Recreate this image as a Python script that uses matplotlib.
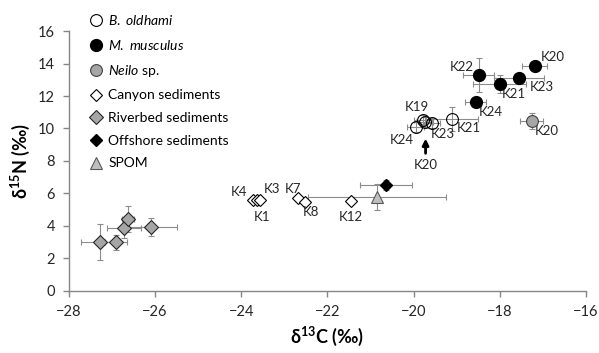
import matplotlib
matplotlib.use("Agg")
import matplotlib.pyplot as plt
from matplotlib.lines import Line2D

plt.rcParams['font.family'] = ['Lato', 'DejaVu Sans']
plt.rcParams['mathtext.fontset'] = 'custom'
plt.rcParams['mathtext.rm'] = 'Lato'
plt.rcParams['mathtext.it'] = 'Lato:italic'
plt.rcParams['mathtext.bf'] = 'Lato:bold'

# B. oldhami
old_lab = ['K19', 'K20', 'K23', 'K24', 'K21']
old_x = [-19.79, -19.74, -19.58, -19.95, -19.11]
old_y = [10.55, 10.4, 10.34, 10.09, 10.6]
old_xe = [0.2, 0.2, 0.2, 0.2, 0.6]
old_ye = [0.3, 0.3, 0.3, 0.3, 0.75]
old_off = [(-4, 9), None, (8, -8), (-10, -9), (12, -6.5)]

# M. musculus
mus_lab = ['K20', 'K22', 'K23', 'K21', 'K24']
mus_x = [-17.19, -18.49, -17.56, -18.0, -18.56]
mus_y = [13.85, 13.3, 13.1, 12.74, 11.63]
mus_xe = [0.3, 0.35, 0.58, 0.62, 0.25]
mus_ye = [0.2, 1.05, 0.3, 0.55, 0.2]
mus_off = [(13, 6.5), (-12, 6), (17, -6.5), (10, -7), (11, -7)]

# Neilo sp.
nei_lab = ['K20']
nei_x = [-17.26]
nei_y = [10.46]
nei_xe = [0.27]
nei_ye = [0.5]
nei_off = [(11, -7)]

# canyon sediments
can_lab = ['K4', 'K1', 'K3', 'K7', 'K8', 'K12']
can_x = [-23.73, -23.64, -23.57, -22.69, -22.52, -21.46]
can_y = [5.57, 5.6, 5.6, 5.72, 5.48, 5.54]
can_off = [(-10, 6), (3.5, -12), (9, 8), (-3.5, 6.5), (4.5, -7), (0.5, -11.5)]

# riverbed sediments
riv_x = [-27.28, -26.91, -26.72, -26.63, -26.1]
riv_y = [3.0, 3.0, 3.88, 4.43, 3.94]
riv_xe = [0.45, 0.25, 0.4, 0.14, 0.6]
riv_ye = [1.1, 0.46, 0.6, 0.8, 0.55]

# offshore sediments
off_x = [-20.64]
off_y = [6.52]
off_xe = [0.6]
off_ye = [0.3]

# SPOM
spom_x = [-20.85]
spom_y = [5.8]
spom_xe = [1.6]
spom_ye = [0.8]

fig = plt.figure(figsize=(5.99, 3.53), dpi=100)
ax = fig.add_axes([0.115, 0.176, 0.863, 0.736])

ekw = dict(fmt='none', ecolor='#8c8c8c', elinewidth=0.8, capsize=2, capthick=0.8, zorder=1)
ax.errorbar(old_x, old_y, xerr=old_xe, yerr=old_ye, **ekw)
ax.errorbar(mus_x, mus_y, xerr=mus_xe, yerr=mus_ye, **ekw)
ax.errorbar(nei_x, nei_y, xerr=nei_xe, yerr=nei_ye, **ekw)
ax.errorbar(riv_x, riv_y, xerr=riv_xe, yerr=riv_ye, **ekw)
ax.errorbar(off_x, off_y, xerr=off_xe, yerr=off_ye, **ekw)
ax.errorbar(spom_x, spom_y, xerr=spom_xe, yerr=spom_ye, **ekw)

ax.plot(can_x, can_y, 'D', ms=6.5, mfc='white', mec='black', mew=0.8, zorder=3)
ax.plot(riv_x, riv_y, 'D', ms=7, mfc='#a6a6a6', mec='#262626', mew=0.8, zorder=3)
ax.plot(off_x, off_y, 'D', ms=6, mfc='black', mec='black', zorder=3)
ax.plot(spom_x, spom_y, '^', ms=9, mfc='#bfbfbf', mec='#595959', mew=0.8, zorder=3)
ax.plot(old_x, old_y, 'o', ms=8.5, mfc='none', mec='black', mew=0.8, zorder=4)
ax.plot(mus_x, mus_y, 'o', ms=8.5, mfc='black', mec='black', zorder=4)
ax.plot(nei_x, nei_y, 'o', ms=8.5, mfc='#a6a6a6', mec='#404040', mew=0.8, zorder=4)

for labs, xs, ys, offs in [(old_lab, old_x, old_y, old_off),
                           (mus_lab, mus_x, mus_y, mus_off),
                           (nei_lab, nei_x, nei_y, nei_off),
                           (can_lab, can_x, can_y, can_off)]:
    for lab, x, y, o in zip(labs, xs, ys, offs):
        if o is None:
            continue
        ax.annotate(lab, (x, y), xytext=o, textcoords='offset points',
                    ha='center', va='center', fontsize=9.5, color='#262626')

# arrow pointing at K20 in the oldhami cluster
ax.annotate('', xy=(old_x[1] + 0.02, old_y[1] - 0.85), xytext=(old_x[1] + 0.02, old_y[1] - 2.1),
            arrowprops=dict(arrowstyle='-|>', color='black', lw=2, mutation_scale=9))
ax.text(old_x[1] + 0.02, old_y[1] - 2.65, 'K20', ha='center', va='center', fontsize=9.5, color='#262626')

ax.set_xlim(-28, -16)
ax.set_ylim(0, 16)
ax.set_xticks(range(-28, -15, 2))
ax.set_yticks(range(0, 17, 2))
for s in ['top', 'right']:
    ax.spines[s].set_visible(False)
for s in ['left', 'bottom']:
    ax.spines[s].set_color('#868686')
    ax.spines[s].set_linewidth(1)
ax.tick_params(direction='out', length=4, width=1, color='#868686', labelsize=10.5,
               labelcolor='#262626', pad=6)

ax.set_xlabel(r'$\mathbf{\delta^{13}C}$ (‰)', fontsize=13, fontweight='bold', labelpad=4)
ax.set_ylabel(r'$\mathbf{\delta^{15}N}$ (‰)', fontsize=13, fontweight='bold', labelpad=4)

handles = [
    Line2D([], [], ls='none', marker='o', ms=8.5, mfc='white', mec='black', mew=0.8),
    Line2D([], [], ls='none', marker='o', ms=8.5, mfc='black', mec='black'),
    Line2D([], [], ls='none', marker='o', ms=8.5, mfc='#a6a6a6', mec='#404040', mew=0.8),
    Line2D([], [], ls='none', marker='D', ms=6.5, mfc='white', mec='black', mew=0.8),
    Line2D([], [], ls='none', marker='D', ms=7, mfc='#a6a6a6', mec='#262626', mew=0.8),
    Line2D([], [], ls='none', marker='D', ms=6, mfc='black', mec='black'),
    Line2D([], [], ls='none', marker='^', ms=8, mfc='#bfbfbf', mec='#595959', mew=0.8),
]
labels = [r'$\it{B.\ oldhami}$', r'$\it{M.\ musculus}$', r'$\it{Neilo}$ sp.',
          'Canyon sediments', 'Riverbed sediments', 'Offshore sediments', 'SPOM']
ax.legend(handles, labels, loc='upper left', bbox_to_anchor=(0.025, 1.095), frameon=False,
          fontsize=10, handlelength=1, handletextpad=0.4, labelspacing=0.77, borderpad=0)

fig.savefig('out.png', dpi=100)
